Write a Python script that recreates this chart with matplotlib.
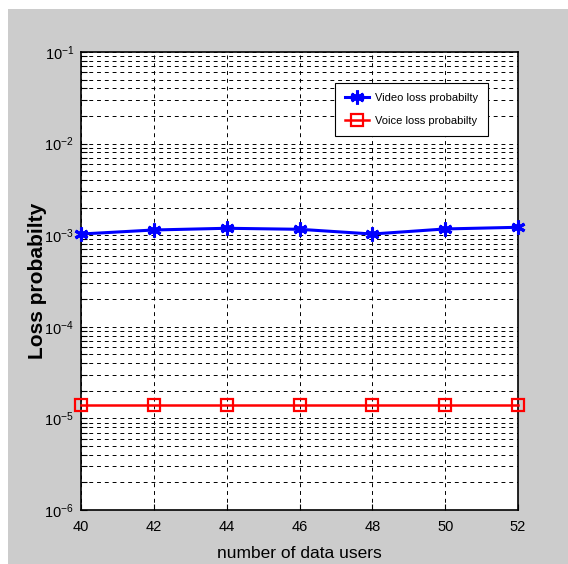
import matplotlib
matplotlib.use("Agg")
import matplotlib.pyplot as plt
from matplotlib.patches import Rectangle
from matplotlib.ticker import LogLocator, FixedLocator

plt.rcParams['font.family'] = ['Liberation Sans', 'DejaVu Sans']
plt.rcParams['mathtext.fontset'] = 'custom'
plt.rcParams['mathtext.rm'] = 'Liberation Sans'
plt.rcParams['mathtext.it'] = 'Liberation Sans:italic'
plt.rcParams['mathtext.bf'] = 'Liberation Sans:bold'

# Data
data_users = [40, 42, 44, 46, 48, 50, 52]
video_loss = [1.03e-3, 1.14e-3, 1.19e-3, 1.16e-3, 1.03e-3, 1.17e-3, 1.22e-3]
voice_loss = [1.4e-5, 1.4e-5, 1.4e-5, 1.4e-5, 1.4e-5, 1.4e-5, 1.4e-5]
x_ticks = [40, 42, 44, 46, 48, 50, 52]
y_ticks = [1e-6, 1e-5, 1e-4, 1e-3, 1e-2, 1e-1]
y_tick_labels = [r'$10^{-6}$', r'$10^{-5}$', r'$10^{-4}$', r'$10^{-3}$', r'$10^{-2}$', r'$10^{-1}$']
legend_labels = ['Video loss probabilty', 'Voice loss probabilty']
x_label = 'number of data users'
y_label = 'Loss probabilty'

W, H = 568, 564
fig = plt.figure(figsize=(W / 100, H / 100), dpi=100, facecolor='white')
# gray background panel
fig.patches.append(Rectangle((8 / W, 0), 1 - 8 / W, 1 - 9 / H, transform=fig.transFigure,
                             facecolor='#cccccc', edgecolor='none', zorder=-10))

l, r, t, b = 81, 518, 52, 510
ax = fig.add_axes([l / W, 1 - b / H, (r - l) / W, (b - t) / H])
ax.set_facecolor('white')
ax.set_yscale('log')
ax.set_xlim(40, 52)
ax.set_ylim(1e-6, 1e-1)

ax.plot(data_users, video_loss, color='#0000ff', linewidth=2.2, marker=(6, 2, 0),
        markersize=10, markeredgewidth=2.2, label=legend_labels[0], zorder=5, clip_on=False)
ax.plot(data_users, voice_loss, color='#ff0000', linewidth=1.8, marker='s',
        markersize=8, markerfacecolor='none', markeredgewidth=1.6, label=legend_labels[1],
        zorder=5, clip_on=False)

ax.xaxis.set_major_locator(FixedLocator(x_ticks))
ax.set_xticklabels([str(v) for v in x_ticks])
ax.yaxis.set_major_locator(FixedLocator(y_ticks))
ax.set_yticklabels(y_tick_labels)
ax.yaxis.set_minor_locator(LogLocator(base=10, subs=range(2, 10), numticks=20))
ax.yaxis.set_minor_formatter(plt.NullFormatter())

grid_kw = dict(color='black', linewidth=0.7, linestyle=(0, (4, 4)))
ax.grid(True, which='major', axis='both', **grid_kw)
ax.grid(True, which='minor', axis='y', **grid_kw)
ax.set_axisbelow(True)

ax.tick_params(direction='in', which='both', labelsize=10.5, length=4, width=0.8,
               top=False, right=False)
ax.tick_params(axis='y', pad=5)
ax.tick_params(axis='x', pad=7)
for s in ax.spines.values():
    s.set_linewidth(1.2)
    s.set_color('black')

ax.set_xlabel(x_label, fontsize=12.5, labelpad=9)
ax.set_ylabel(y_label, fontsize=15, fontweight='bold')
ax.yaxis.set_label_coords(-0.078, 0.5)

leg = ax.legend(loc='upper right', bbox_to_anchor=(0.931, 0.932), borderaxespad=0,
                fontsize=8, fancybox=False, framealpha=1, edgecolor='black',
                handlelength=2.1, handletextpad=0.55, borderpad=0.9, labelspacing=1.15)
leg.get_frame().set_linewidth(0.8)

fig.savefig('out.png', dpi=100, facecolor=fig.get_facecolor())
